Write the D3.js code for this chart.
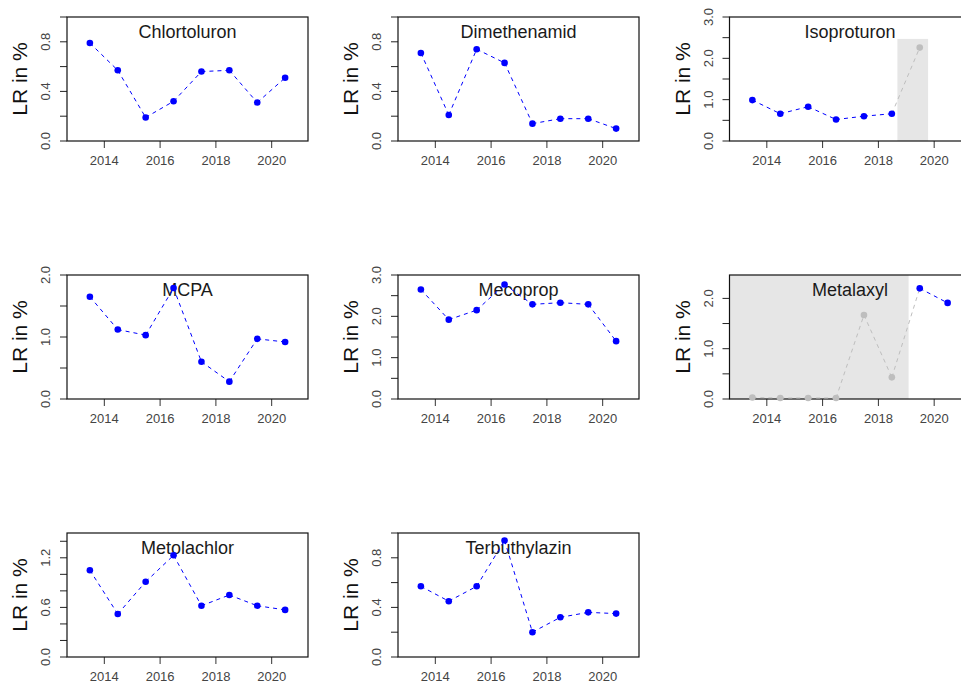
<!DOCTYPE html>
<html>
<head>
<meta charset="utf-8">
<script src="https://cdn.jsdelivr.net/npm/d3@7"></script>
<style>
body { margin: 0; background: #fff; }
text { font-family: "Liberation Sans", Arial, sans-serif; }
</style>
</head>
<body>
<svg id="chart" width="961" height="686"></svg>
<script>
// years of the measurement campaigns (points sit in the middle of each year)
var years = [2013, 2014, 2015, 2016, 2017, 2018, 2019, 2020];
var xTicks = [2014, 2016, 2018, 2020];

var substances = ["Chlortoluron", "Dimethenamid", "Isoproturon", "MCPA", "Mecoprop",
                  "Metalaxyl", "Metolachlor", "Terbuthylazin"];

// LR in % per year
var chlortoluron  = [0.79, 0.57, 0.19, 0.32, 0.56, 0.57, 0.31, 0.51];
var dimethenamid  = [0.71, 0.21, 0.74, 0.63, 0.14, 0.18, 0.18, 0.10];
var isoproturon   = [0.99, 0.66, 0.83, 0.52, 0.60, 0.66, 2.26, null];
var mcpa          = [1.65, 1.12, 1.03, 1.79, 0.60, 0.28, 0.97, 0.92];
var mecoprop      = [2.65, 1.92, 2.15, 2.77, 2.29, 2.33, 2.29, 1.40];
var metalaxyl     = [0.03, 0.02, 0.02, 0.02, 1.67, 0.43, 2.20, 1.91];
var metolachlor   = [1.05, 0.52, 0.91, 1.23, 0.62, 0.75, 0.62, 0.57];
var terbuthylazin = [0.57, 0.45, 0.57, 0.94, 0.20, 0.32, 0.36, 0.35];

// y axis: upper limit, tick step, label every n-th tick
var yMax      = [1.0, 1.0, 3.0, 2.0, 3.0, 2.465, 1.5, 1.0];
var yStep     = [0.2, 0.2, 0.5, 0.5, 0.5, 0.5, 0.2, 0.2];
var yLabEvery = [2, 2, 2, 2, 2, 2, 3, 2];

// greyed out (uncertain) years and shaded areas [x0, x1, yTop]
var greyYears = { "Isoproturon": [2019], "Metalaxyl": [2013, 2014, 2015, 2016, 2017, 2018] };
var shades = { "Isoproturon": [2018.7, 2019.8, 2.47], "Metalaxyl": [null, 2019.1, null] };

var series = [chlortoluron, dimethenamid, isoproturon, mcpa, mecoprop, metalaxyl, metolachlor, terbuthylazin];

var width = 961, height = 686;
var boxW = 241, boxH = 124;
var colLeft = [67, 398, 729.5];
var rowTop = [17, 275, 533];

var blue = "#0000ff", grey = "#bebebe";

var svg = d3.select("#chart");
svg.append("rect").attr("width", width).attr("height", height).attr("fill", "#fff");

function drawPanel(name, values, k) {
    var left = colLeft[k % 3], top = rowTop[Math.floor(k / 3)];
    var g = svg.append("g").attr("transform", "translate(" + left + "," + top + ")");

    var x = d3.scaleLinear().domain([2012.68, 2021.32]).range([0, boxW]);
    var y = d3.scaleLinear().domain([0, yMax[k]]).range([boxH, 0]);

    var greys = greyYears[name] || [];

    // shaded area
    var sh = shades[name];
    if (sh) {
        var x0 = sh[0] == null ? x.domain()[0] : sh[0];
        var yt = sh[2] == null ? y.domain()[1] : sh[2];
        g.append("rect")
            .attr("x", x(x0)).attr("width", x(sh[1]) - x(x0))
            .attr("y", y(yt)).attr("height", y(0) - y(yt))
            .attr("fill", "#e6e6e6");
    }

    // y axis
    var nT = Math.floor(yMax[k] / yStep[k] + 1e-6);
    var ticks = d3.range(nT + 1).map(function(i) { return +(i * yStep[k]).toFixed(2); });
    var yAxis = d3.axisLeft(y).tickValues(ticks).tickSize(7).tickPadding(4)
        .tickFormat(function(d, i) { return i % yLabEvery[k] == 0 ? d3.format(".1f")(d) : ""; });
    var ya = g.append("g").call(yAxis);
    ya.select(".domain").remove();
    ya.selectAll("line").attr("stroke", "#222");
    ya.selectAll("text")
        .attr("font-size", 13).attr("fill", "#444")
        .attr("transform", function(d) { return "translate(" + (-17) + "," + y(d) + ") rotate(-90)"; })
        .attr("x", 0).attr("y", 0).attr("dy", 0)
        .attr("text-anchor", "middle");
    ya.selectAll(".tick").attr("transform", null);
    ya.selectAll(".tick line").attr("transform", function(d) { return "translate(0," + y(d) + ")"; });

    // x axis
    var xa = g.append("g").attr("transform", "translate(0," + boxH + ")")
        .call(d3.axisBottom(x).tickValues(xTicks).tickFormat(d3.format("d")).tickSize(7).tickPadding(8));
    xa.select(".domain").remove();
    xa.selectAll("line").attr("stroke", "#333");
    xa.selectAll("text").attr("font-size", 13).attr("fill", "#444");

    // frame (right side falls off the page in the last column)
    g.append("rect")
        .attr("x", 0).attr("y", 0).attr("width", boxW).attr("height", boxH)
        .attr("fill", "none").attr("stroke", "#111").attr("stroke-width", 1.2);

    // y label
    g.append("text")
        .attr("transform", "translate(-40," + (boxH / 2) + ") rotate(-90)")
        .attr("text-anchor", "middle")
        .attr("font-size", 21).attr("fill", "#111")
        .text("LR in %");

    // title inside the box
    g.append("text")
        .attr("x", boxW / 2).attr("y", 21)
        .attr("text-anchor", "middle")
        .attr("font-size", 18).attr("fill", "#1a1a1a")
        .text(name);

    var pts = years.map(function(yr, i) {
        return { year: yr, v: values[i], grey: greys.indexOf(yr) >= 0 };
    }).filter(function(d) { return d.v != null; });

    // dashed connecting segments
    var segs = d3.pairs(pts);
    g.selectAll("line.seg")
        .data(segs)
        .join("line")
        .attr("class", "seg")
        .attr("x1", function(d) { return x(d[0].year + 0.5); })
        .attr("y1", function(d) { return y(d[0].v); })
        .attr("x2", function(d) { return x(d[1].year + 0.5); })
        .attr("y2", function(d) { return y(d[1].v); })
        .attr("stroke", function(d) { return (d[0].grey || d[1].grey) ? grey : blue; })
        .attr("stroke-width", 1)
        .attr("stroke-dasharray", "4,4");

    g.selectAll("circle")
        .data(pts)
        .join("circle")
        .attr("cx", function(d) { return x(d.year + 0.5); })
        .attr("cy", function(d) { return y(d.v); })
        .attr("r", 3.3)
        .attr("fill", function(d) { return d.grey ? grey : blue; });
}

substances.forEach(function(name, k) {
    drawPanel(name, series[k], k);
});
</script>
</body>
</html>
